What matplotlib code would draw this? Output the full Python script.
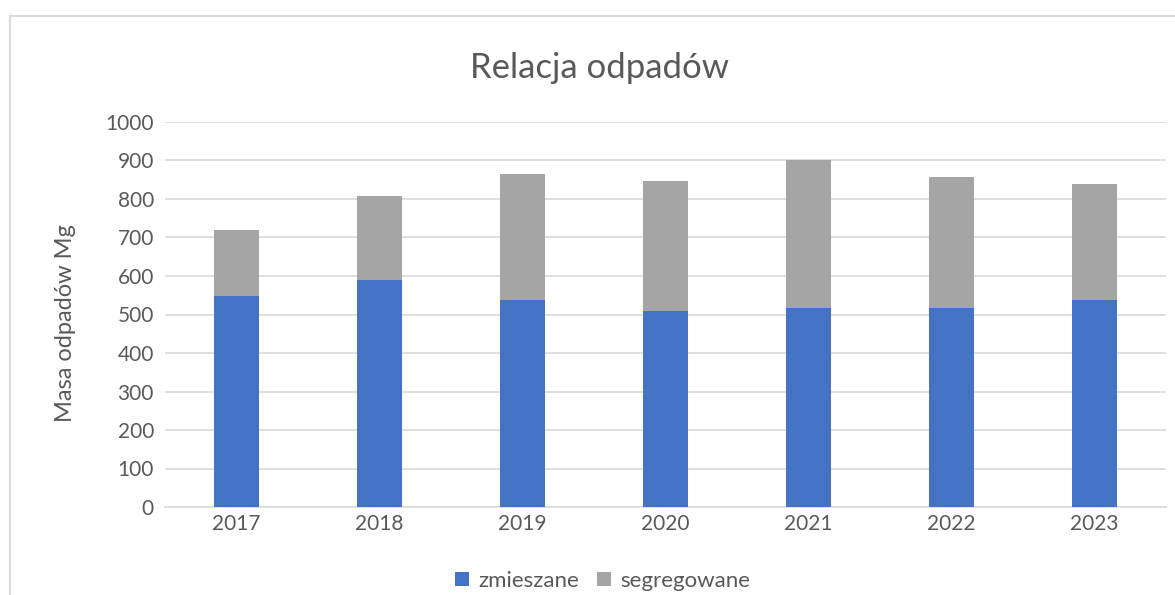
import matplotlib.pyplot as plt
from matplotlib.patches import Rectangle

plt.rcParams['font.family'] = ['Lato', 'DejaVu Sans']

# dane
lata = ['2017', '2018', '2019', '2020', '2021', '2022', '2023']
zmieszane = [548, 590, 537, 509, 516, 516, 537]
segregowane = [172, 217, 329, 339, 386, 342, 303]

W, H = 1175, 595
fig = plt.figure(figsize=(W / 100, H / 100), dpi=100)
ax = fig.add_axes([165 / W, (H - 507) / H, 1001 / W, 385 / H])

kolor_tekstu = '#595959'
kolor_siatki = '#d9d9d9'

x = range(len(lata))
ax.bar(x, zmieszane, width=0.315, color='#4472c4', label='zmieszane', zorder=3)
ax.bar(x, segregowane, width=0.315, bottom=zmieszane, color='#a5a5a5',
       label='segregowane', zorder=3)

ax.set_xlim(-0.5, len(lata) - 0.5)
ax.set_ylim(0, 1000)
ax.set_yticks(range(0, 1001, 100))
ax.set_xticks(list(x))
ax.set_xticklabels(lata)
ax.tick_params(axis='both', length=0, labelsize=15, labelcolor=kolor_tekstu)
ax.tick_params(axis='y', pad=8)
ax.tick_params(axis='x', pad=5)
ax.grid(axis='y', color=kolor_siatki, linewidth=1.2, zorder=0)
for s in ['top', 'right', 'left']:
    ax.spines[s].set_visible(False)
ax.spines['bottom'].set_color(kolor_siatki)
ax.spines['bottom'].set_linewidth(1.2)

fig.text(600 / W, 1 - 68 / H, 'Relacja odpadów', ha='center', va='center',
         fontsize=25, color=kolor_tekstu)
fig.text(65 / W, 1 - 323 / H, 'Masa odpadów Mg', ha='center', va='center',
         rotation=90, fontsize=17, color=kolor_tekstu)

leg = fig.legend(loc='center', bbox_to_anchor=(603 / W, 1 - 581 / H), ncol=2,
                 frameon=False, fontsize=16, handlelength=0.6, handleheight=0.6,
                 handletextpad=0.45, columnspacing=0.8)
for t in leg.get_texts():
    t.set_color(kolor_tekstu)

# ramka wykresu
fig.patches.append(Rectangle((10 / W, -0.1), 1.2, 1 - 16 / H + 0.1,
                             transform=fig.transFigure, fill=False,
                             edgecolor=kolor_siatki, linewidth=1.5))

fig.savefig('out.png', dpi=100)
